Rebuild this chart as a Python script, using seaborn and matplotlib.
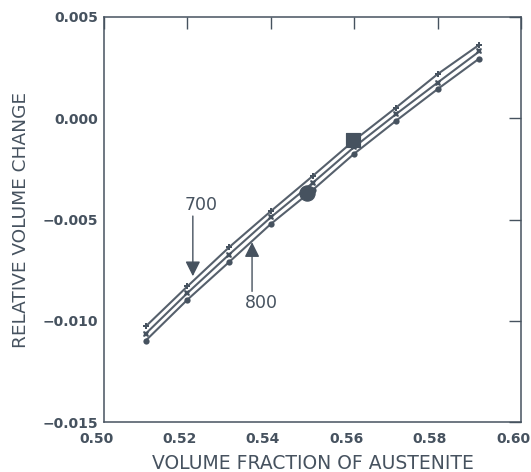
import matplotlib
matplotlib.use("Agg")
import matplotlib.pyplot as plt
import matplotlib.transforms as mtransforms
import seaborn as sns
import pandas as pd

# ---- data ----
fraction = [0.51, 0.52, 0.53, 0.54, 0.55, 0.56, 0.57, 0.58, 0.59]
upper = [-0.01028, -0.00830, -0.00637, -0.00459, -0.00286, -0.00109, 0.00052, 0.00218, 0.00363]
middle = [-0.01064, -0.00863, -0.00673, -0.00489, -0.00320, -0.00142, 0.00020, 0.00176, 0.00330]
lower = [-0.01098, -0.00896, -0.00710, -0.00522, -0.00355, -0.00175, -0.00013, 0.00144, 0.00295]

square_pt = (0.5597, -0.00109)
circle_pt = (0.5487, -0.00368)

x_ticks = [0.50, 0.52, 0.54, 0.56, 0.58, 0.60]
y_ticks = [-0.015, -0.010, -0.005, 0.000, 0.005]

arrow_labels = ["700", "800"]
arrow_x = [0.5213, 0.5355]
arrow_tip = [-0.0078, -0.00612]
arrow_tail = [-0.00483, -0.00855]
label_pos = [(0.5232, -0.00428), (0.5377, -0.00912)]

# ---- style ----
ink = "#46525f"
line_c = "#56606c"
sns.set_style("white")
plt.rcParams["font.family"] = ["DejaVu Sans"]

fig = plt.figure(figsize=(5.31, 4.72), dpi=100)
ax = fig.add_axes([0.1959, 0.1059, 0.7853, 0.8581])

df = pd.DataFrame({
    "x": fraction * 3,
    "y": upper + middle + lower,
    "s": ["upper"] * 9 + ["middle"] * 9 + ["lower"] * 9,
})
markers = {"upper": "P", "middle": "X", "lower": "o"}
for name in ["upper", "middle", "lower"]:
    sub = df[df.s == name]
    sns.lineplot(data=sub, x="x", y="y", ax=ax, color=line_c, linewidth=1.5,
                 marker=markers[name], markersize=4.5, markeredgewidth=0,
                 markerfacecolor=ink, legend=False)

sq = pd.DataFrame({"x": [square_pt[0]], "y": [square_pt[1]]})
ci = pd.DataFrame({"x": [circle_pt[0]], "y": [circle_pt[1]]})
sns.scatterplot(data=sq, x="x", y="y", ax=ax, marker="s", s=110, color=ink, edgecolor=ink, zorder=5)
sns.scatterplot(data=ci, x="x", y="y", ax=ax, marker="o", s=120, color=ink, edgecolor=ink, zorder=5)

for lab, xa, tip, tail, pos in zip(arrow_labels, arrow_x, arrow_tip, arrow_tail, label_pos):
    ax.annotate("", xy=(xa, tip), xytext=(xa, tail),
                arrowprops=dict(arrowstyle="-|>,head_length=0.9,head_width=0.45",
                                color=ink, lw=1.0, shrinkA=0, shrinkB=0))
    ax.text(pos[0], pos[1], lab, ha="center", va="center", fontsize=12.5, color=ink)

ax.set_xlim(0.50, 0.60)
ax.set_ylim(-0.015, 0.005)
ax.set_xticks(x_ticks)
ax.set_yticks(y_ticks)
ax.set_xticklabels([f"{v:.2f}" for v in x_ticks])
ax.set_yticklabels([f"{v:.3f}".replace("-", "\u2212") for v in y_ticks])
ax.tick_params(direction="in", length=8.5, width=1.0, color=ink, top=True, right=True,
               labelsize=10, labelcolor=ink)
ax.tick_params(axis="x", pad=7)
ax.tick_params(axis="y", pad=4)
shift = mtransforms.ScaledTranslation(-8 / 100, 0, fig.dpi_scale_trans)
for lbl in ax.get_xticklabels():
    lbl.set_fontweight("bold")
    lbl.set_transform(lbl.get_transform() + shift)
for lbl in ax.get_yticklabels():
    lbl.set_fontweight("bold")
for sp in ax.spines.values():
    sp.set_color(ink)
    sp.set_linewidth(1.1)

ax.set_xlabel("VOLUME FRACTION OF AUSTENITE", fontsize=13.5, color=ink, labelpad=6)
ax.set_ylabel("RELATIVE VOLUME CHANGE", fontsize=13.3, color=ink, labelpad=9)

fig.savefig("out.png", dpi=100)
